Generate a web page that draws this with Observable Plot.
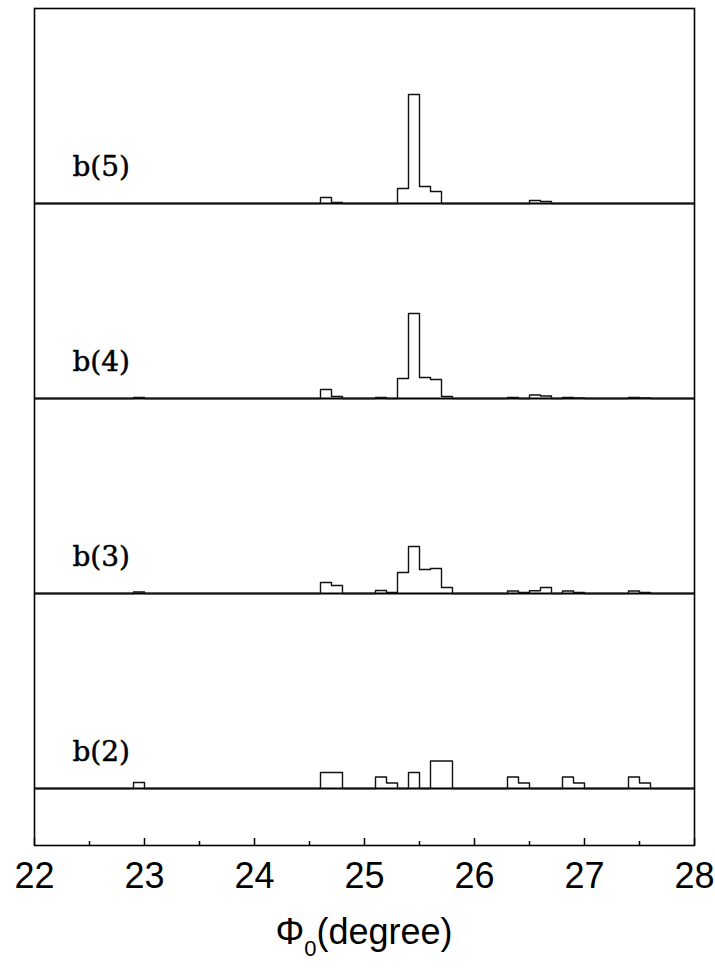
<!DOCTYPE html>
<html><head><meta charset="utf-8">
<script src="https://cdn.jsdelivr.net/npm/d3@7"></script>
<script src="https://cdn.jsdelivr.net/npm/@observablehq/plot@0.6"></script>
<style>
html,body{margin:0;background:#fff;min-height:979px}
#cap{width:660px;margin-left:34px;text-align:center;font-family:"Liberation Sans",Arial,sans-serif;font-size:36px;line-height:36px;margin-top:14px;padding-bottom:30px;color:#000}
#cap sub{font-size:22px;line-height:0;vertical-align:-12px}
</style>
</head><body><div id="chart"></div>
<script>
// panel labels (bottom to top)
const panelNames = ["b(2)", "b(3)", "b(4)", "b(5)"];
// bin start positions (degree) and frequencies (arbitrary units), bin width 0.1
const b2Starts  = [22.9, 24.6, 24.7, 25.1, 25.2, 25.4, 25.6, 25.7, 26.3, 26.4, 26.8, 26.9, 27.4, 27.5];
const b2Heights = [6, 16, 16, 11.5, 5.5, 16, 27.5, 27.5, 11.5, 5.5, 11.5, 5.5, 11.5, 5.5];
const b3Starts  = [22.9, 24.6, 24.7, 25.1, 25.2, 25.3, 25.4, 25.5, 25.6, 25.7, 26.3, 26.4, 26.5, 26.6, 26.8, 26.9, 27.4, 27.5];
const b3Heights = [1.5, 11, 8, 3, 1, 21, 47, 24, 25, 6, 2.5, 1, 2.7, 6, 2.5, 1, 2.5, 1];
const b4Starts  = [22.9, 24.6, 24.7, 25.1, 25.3, 25.4, 25.5, 25.6, 25.7, 26.3, 26.5, 26.6, 26.8, 26.9, 27.4, 27.5];
const b4Heights = [1, 9, 2, 1, 20, 85, 21, 19, 2, 1, 3.5, 2.5, 1, 0.5, 1, 0.5];
const b5Starts  = [24.6, 24.7, 25.3, 25.4, 25.5, 25.6, 26.5, 26.6];
const b5Heights = [6, 1, 15, 109, 17, 12, 3, 2];
const xTicks = [22, 23, 24, 25, 26, 27, 28];
const xMinorTicks = [22.5, 23.5, 24.5, 25.5, 26.5, 27.5];

const binWidth = 0.1;
const panelSpan = 195; // frequency units per panel
const xMin = 22, xMax = 28;

const series = [[b2Starts, b2Heights], [b3Starts, b3Heights], [b4Starts, b4Heights], [b5Starts, b5Heights]];
const stepData = [];
series.forEach(([starts, heights], p) => {
  const lookup = new Map(starts.map((s, i) => [Math.round(s * 10), heights[i]]));
  const n = Math.round((xMax - xMin) / binWidth);
  for (let k = 0; k <= n; k++) {
    const key = Math.round(xMin * 10) + k;
    const h = k < n ? (lookup.get(key) || 0) : 0;
    stepData.push({panel: p, x: key / 10, y: p * panelSpan + h});
  }
});
const baseData = panelNames.map((name, p) => ({name, base: p * panelSpan}));

const yBottom = -57;
const yTop = 4 * panelSpan;

const chart = Plot.plot({
  width: 715,
  height: 900,
  marginLeft: 34,
  marginRight: 21,
  marginTop: 8,
  marginBottom: 55,
  x: {domain: [xMin, xMax]},
  y: {domain: [yBottom, yTop], axis: null},
  style: {fontFamily: "'Liberation Sans', Arial, sans-serif", background: "#fff"},
  marks: [
    Plot.ruleY(baseData, {y: "base", stroke: "#000", strokeWidth: 2}),
    Plot.line(stepData, {x: "x", y: "y", z: "panel", curve: "step-after", stroke: "#111", strokeWidth: 1.4}),
    Plot.text(baseData, {x: () => 22.345, y: d => d.base + 28, text: "name", textAnchor: "start", lineAnchor: "bottom",
      fontFamily: "'DejaVu Serif', serif", fontSize: 28, fill: "#000", stroke: "#000", strokeWidth: 0.5}),
    Plot.ruleX(xTicks, {x: d => d, y1: yBottom, y2: yBottom + 7, stroke: "#000", strokeWidth: 1.5}),
    Plot.ruleX(xMinorTicks, {x: d => d, y1: yBottom, y2: yBottom + 4, stroke: "#000", strokeWidth: 1.5}),
    Plot.axisX({ticks: xTicks, tickSize: 0, tickPadding: 17, fontSize: 36, tickFormat: d => String(d), label: null}),
    Plot.frame({stroke: "#000", strokeWidth: 1.6})
  ]
});
document.getElementById("chart").appendChild(chart);
const cap = document.createElement("div");
cap.id = "cap";
cap.innerHTML = "Φ<sub>0</sub>(degree)";
document.body.appendChild(cap);
</script>
</body></html>
